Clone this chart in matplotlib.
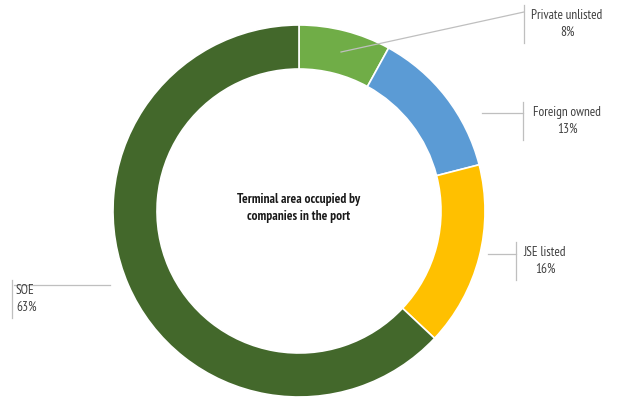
import matplotlib.pyplot as plt

labels = ["Private unlisted", "Foreign owned", "JSE listed", "SOE"]
shares = [8, 13, 16, 63]
colors = ["#70AD47", "#5B9BD5", "#FFC000", "#43682B"]
title = "Terminal area occupied by\ncompanies in the port"

family = ["PT Sans Narrow", "Fira Sans Condensed", "DejaVu Sans"]

W, H = 622, 400
fig = plt.figure(figsize=(W / 100, H / 100), dpi=100)
ax = fig.add_axes([0, 0, 1, 1])

cx, cy, r = 299, H - 211, 186
ax.pie(shares, colors=colors, startangle=90, counterclock=False,
       center=(cx, cy), radius=r, frame=True,
       wedgeprops=dict(width=44, edgecolor="white", linewidth=1.2))
ax.set_xlim(0, W)
ax.set_ylim(0, H)
ax.set_aspect("equal")
ax.axis("off")

ax.text(cx, cy + 3, title, ha="center", va="center", fontsize=9.5,
        fontweight="bold", color="#1a1a1a", family=family, linespacing=1.4)

# label layout: (leader start, leader end, bar x, text x, text y, align)
lead_col = "#BFBFBF"
txt_col = "#404040"
layout = [
    ((341, 52), (524, 12), 524, 567, 24, "center"),
    ((482, 113), (523, 113), 523, 567, 121, "center"),
    ((488, 254), (516, 254), 516, 545, 261, "center"),
    ((110, 285), (14, 285), 12, 16, 299, "left"),
]
for name, val, (p0, p1, bx, tx, ty, al) in zip(labels, shares, layout):
    ax.plot([p0[0], p1[0]], [H - p0[1], H - p1[1]], color=lead_col, lw=0.9)
    ax.plot([bx, bx], [H - (ty - 19), H - (ty + 19)], color=lead_col, lw=0.9)
    ax.text(tx, H - ty, f"{name}\n{val}%", ha=al, va="center", fontsize=9.5,
            color=txt_col, family=family, linespacing=1.4)

fig.savefig("out.png", dpi=100)
